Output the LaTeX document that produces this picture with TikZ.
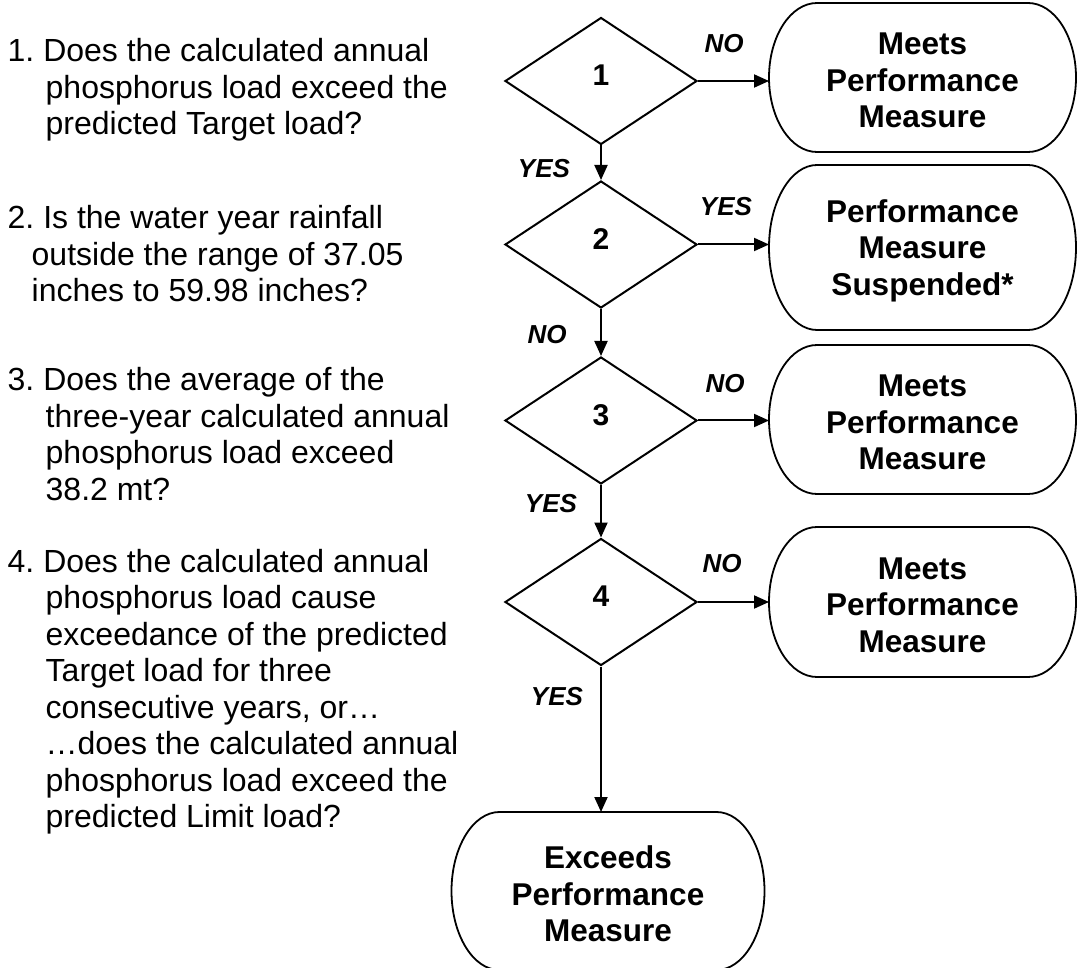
\documentclass[tikz,border=0pt]{standalone}
\usepackage{fontspec}
\setmainfont{Liberation Sans}
\usetikzlibrary{shapes.geometric,arrows.meta}
\tikzset{
  arr/.style={line width=2pt, -{Triangle[length=15pt,width=13pt]}},
  boxline/.style={line width=1.8pt},
  dec/.style={shape=diamond, draw, line width=2pt, minimum width=192pt, minimum height=127pt,
    inner sep=0pt, font=\fontsize{30}{30}\selectfont\bfseries, text height=21.5pt, text depth=12pt},
  termtext/.style={shape=rectangle, inner sep=0pt, outer sep=0pt, align=center,
    font=\fontsize{31.5}{36.5}\selectfont\bfseries},
  lab/.style={font=\fontsize{26}{26}\selectfont\bfseries\itshape, inner sep=0pt},
  qtext/.style={anchor=base west, inner sep=0pt, font=\fontsize{32}{36.5}\selectfont\frenchspacing},
}
% #1 name, #2 cx, #3 cy, #4 width, #5 height, #6 text
\newcommand\termbox[6]{%
  \pgfmathsetmacro\bxL{#2-#4/2}%
  \pgfmathsetmacro\bxR{#2+#4/2}%
  \pgfmathsetmacro\bxT{#3-#5/2}%
  \pgfmathsetmacro\bxB{#3+#5/2}%
  \pgfmathsetmacro\bxRy{#5/2}%
  \def\bxRx{48}%
  \node[termtext, minimum width=#4pt, minimum height=#5pt, yshift=-3pt] (#1) at (#2,#3) {#6};
  \coordinate (#1top) at (#2,\bxT);
  \draw[boxline] (\bxL+\bxRx,\bxT) -- (\bxR-\bxRx,\bxT)
    .. controls (\bxR-\bxRx+0.552*\bxRx,\bxT) and (\bxR,#3-0.552*\bxRy) .. (\bxR,#3)
    .. controls (\bxR,#3+0.552*\bxRy) and (\bxR-\bxRx+0.552*\bxRx,\bxB) .. (\bxR-\bxRx,\bxB)
    -- (\bxL+\bxRx,\bxB)
    .. controls (\bxL+\bxRx-0.552*\bxRx,\bxB) and (\bxL,#3+0.552*\bxRy) .. (\bxL,#3)
    .. controls (\bxL,#3-0.552*\bxRy) and (\bxL+\bxRx-0.552*\bxRx,\bxT) .. (\bxL+\bxRx,\bxT)
    -- cycle;
}
\begin{document}
\begin{tikzpicture}[x=1pt,y=-1pt]
\useasboundingbox (0,0) rectangle (1077,968);
\clip (0,0) rectangle (1077,968);

% questions
\node[qtext] (q1) at (7.5,62) {\parbox[t]{490pt}{\raggedright
1. Does the calculated annual\\
\hspace*{38pt}phosphorus load exceed the\\
\hspace*{38pt}predicted Target load?}};
\node[qtext] (q2) at (7.5,229) {\parbox[t]{490pt}{\raggedright
2. Is the water year rainfall\\
\hspace*{24pt}outside the range of 37.05\\
\hspace*{24pt}inches to 59.98 inches?}};
\node[qtext] (q3) at (7.5,391) {\parbox[t]{490pt}{\raggedright
3. Does the average of the\\
\hspace*{38pt}three-year calculated annual\\
\hspace*{38pt}phosphorus load exceed\\
\hspace*{38pt}38.2 mt?}};
\node[qtext] (q4) at (7.5,572) {\parbox[t]{490pt}{\raggedright
4. Does the calculated annual\\
\hspace*{38pt}phosphorus load cause\\
\hspace*{38pt}exceedance of the predicted\\
\hspace*{38pt}Target load for three\\
\hspace*{38pt}consecutive years, or…\\
\hspace*{38pt}…does the calculated annual\\
\hspace*{38pt}phosphorus load exceed the\\
\hspace*{38pt}predicted Limit load?}};

% decisions
\node[dec] (d1) at (601,81) {1};
\node[dec] (d2) at (601,244.5) {2};
\node[dec] (d3) at (601,420.5) {3};
\node[dec] (d4) at (601,602) {4};

% terminals
\termbox{b1}{922.5}{77.5}{307}{149}{Meets\\Performance\\Measure}
\termbox{b2}{922.5}{247.5}{307}{165}{Performance\\Measure\\Suspended*}
\termbox{b3}{922.5}{419.5}{307}{149}{Meets\\Performance\\Measure}
\termbox{b4}{922.5}{602}{307}{150}{Meets\\Performance\\Measure}
\termbox{b5}{608}{891}{313}{158}{Exceeds\\Performance\\Measure}

% connectors
\draw[arr] (d1.east) -- (d1.east -| b1.west);
\draw[arr] (d2.east) -- (d2.east -| b2.west);
\draw[arr] (d3.east) -- (d3.east -| b3.west);
\draw[arr] (d4.east) -- (d4.east -| b4.west);
\draw[arr] (d1.south) -- (d2.north);
\draw[arr] (d2.south) -- (d3.north);
\draw[arr] (d3.south) -- (d4.north);
\draw[arr] (d4.south) -- (d4.south |- b5top);

% labels
\node[lab] (l1) at (724,44) {NO};
\node[lab] (l2) at (544,169) {YES};
\node[lab] (l3) at (726,207) {YES};
\node[lab] (l4) at (547,335) {NO};
\node[lab] (l5) at (725,384) {NO};
\node[lab] (l6) at (551,504) {YES};
\node[lab] (l7) at (722,564) {NO};
\node[lab] (l8) at (557,697) {YES};
\end{tikzpicture}
\end{document}
